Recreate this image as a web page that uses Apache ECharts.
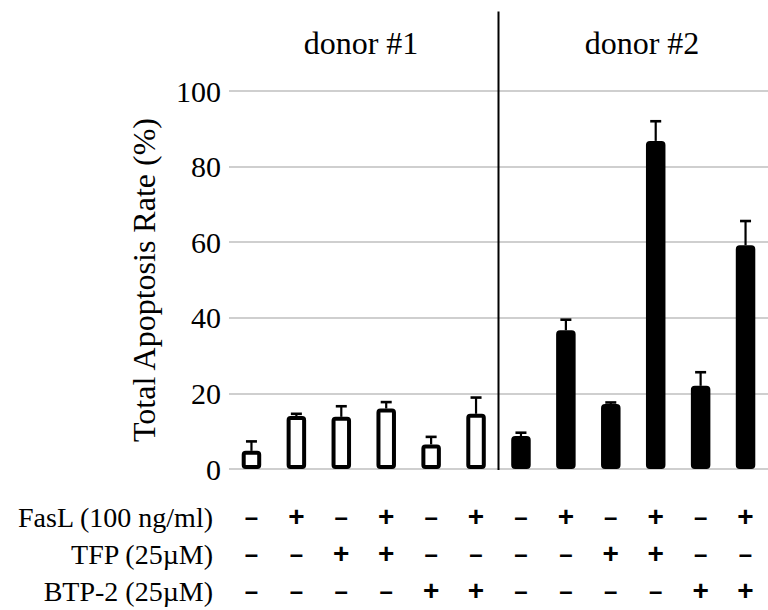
<!DOCTYPE html>
<html>
<head>
<meta charset="utf-8">
<script src="https://cdn.jsdelivr.net/npm/echarts@6/dist/echarts.min.js"></script>
<style>
  html, body { margin: 0; padding: 0; background: #fff; }
  #chart { width: 768px; height: 610px; }
</style>
</head>
<body>
<div id="chart"></div>
<script>
// Groups of bars (one per donor) and which donor each bar belongs to
const donors = ['donor #1', 'donor #2'];
const donorOfBar = [0, 0, 0, 0, 0, 0, 1, 1, 1, 1, 1, 1];

// Treatment matrix shown under the bars
const treatmentNames = ['FasL (100 ng/ml)', 'TFP (25µM)', 'BTP-2 (25µM)'];
const fasL = ['-', '+', '-', '+', '-', '+', '-', '+', '-', '+', '-', '+'];
const tfp  = ['-', '-', '+', '+', '-', '-', '-', '-', '+', '+', '-', '-'];
const btp2 = ['-', '-', '-', '-', '+', '+', '-', '-', '-', '-', '+', '+'];

// Total apoptosis rate (%) and its upper error
const apoptosisMean = [4.8, 14.0, 13.8, 16.0, 6.5, 14.6, 8.7, 36.7, 17.2, 86.8, 22.0, 59.2];
const apoptosisErr  = [2.5, 0.6, 2.8, 1.7, 2.0, 4.3, 0.9, 2.8, 0.4, 5.2, 3.6, 6.4];

// Y axis scale
const yMin = 0, yMax = 100, yStep = 20;
const yName = 'Total Apoptosis Rate (%)';

const treatmentRows = [fasL, tfp, btp2];
const categories = fasL.map((_, i) => `${donors[donorOfBar[i]]} ${fasL[i]}${tfp[i]}${btp2[i]}`);

const serif = 'Liberation Serif';
const sans = 'Liberation Sans';
const rowPitch = 37;

const chart = echarts.init(document.getElementById('chart'), null, { renderer: 'svg' });

chart.setOption({
  animation: false,
  backgroundColor: '#fff',
  grid: { left: 229, top: 91, width: 547, height: 378 },
  xAxis: {
    type: 'category',
    data: categories,
    axisLine: { show: false },
    axisTick: { show: false },
    axisLabel: {
      interval: 0,
      margin: 29,
      color: '#000',
      formatter: (value, index) =>
        treatmentRows.map(row => row[index] === '+' ? '{plus|+}' : '{minus|–}').join('\n'),
      rich: {
        plus:  { fontFamily: sans, fontWeight: 'bold', fontSize: 28, lineHeight: rowPitch, color: '#000' },
        minus: { fontFamily: sans, fontWeight: 'bold', fontSize: 24, lineHeight: rowPitch, color: '#000' }
      }
    }
  },
  yAxis: {
    type: 'value',
    min: yMin, max: yMax, interval: yStep,
    name: yName,
    nameLocation: 'middle',
    nameGap: 69,
    nameTextStyle: { fontFamily: serif, fontSize: 32, color: '#000' },
    axisLine: { show: false },
    axisTick: { show: false },
    axisLabel: { fontFamily: serif, fontSize: 30, color: '#000', margin: 8 },
    splitLine: { lineStyle: { color: '#bfbfbf', width: 1.5 } }
  },
  graphic: [
    { type: 'text', style: { text: donors[0], x: 361, y: 43, align: 'center', verticalAlign: 'middle', fontFamily: serif, fontSize: 32, fill: '#000' } },
    { type: 'text', style: { text: donors[1], x: 642, y: 43, align: 'center', verticalAlign: 'middle', fontFamily: serif, fontSize: 32, fill: '#000' } },
    ...treatmentNames.map((name, r) => ({
      type: 'text',
      style: { text: name, x: 213, y: 517 + r * rowPitch, align: 'right', verticalAlign: 'middle', fontFamily: serif, fontSize: 28, fill: '#000' }
    }))
  ],
  series: [
    {
      type: 'bar',
      data: apoptosisMean,
      barWidth: 19.5,
      itemStyle: {
        color: p => donorOfBar[p.dataIndex] === 0 ? '#ffffff' : '#000000',
        borderColor: '#000',
        borderWidth: 4,
        borderRadius: 2
      },
      z: 3
    },
    {
      // upper error bars
      type: 'custom',
      data: apoptosisMean.map((m, i) => [i, m, m + apoptosisErr[i]]),
      encode: { x: 0, y: [1, 2] },
      renderItem: (params, api) => {
        const i = api.value(0);
        const lo = api.coord([i, api.value(1)]);
        const hi = api.coord([i, api.value(2)]);
        const half = 5.5;
        return {
          type: 'group',
          children: [
            { type: 'line', shape: { x1: lo[0], y1: lo[1], x2: hi[0], y2: hi[1] }, style: { stroke: '#000', lineWidth: 2.2 } },
            { type: 'line', shape: { x1: hi[0] - half, y1: hi[1], x2: hi[0] + half, y2: hi[1] }, style: { stroke: '#000', lineWidth: 2.6 } }
          ]
        };
      },
      z: 2
    },
    {
      // divider between the two donors, reaching up past the plot top
      type: 'custom',
      data: [[donorOfBar.lastIndexOf(0)]],
      encode: { x: 0 },
      renderItem: (params, api) => {
        const last = api.value(0);
        const base = api.coord([last, yMin]);
        const top = api.coord([last, yMax * 1.21]);
        const x = base[0] + api.size([1, 0])[0] / 2;
        return { type: 'line', shape: { x1: x, y1: top[1], x2: x, y2: base[1] + 1 }, style: { stroke: '#000', lineWidth: 2 } };
      },
      z: 4
    }
  ]
});
</script>
</body>
</html>
